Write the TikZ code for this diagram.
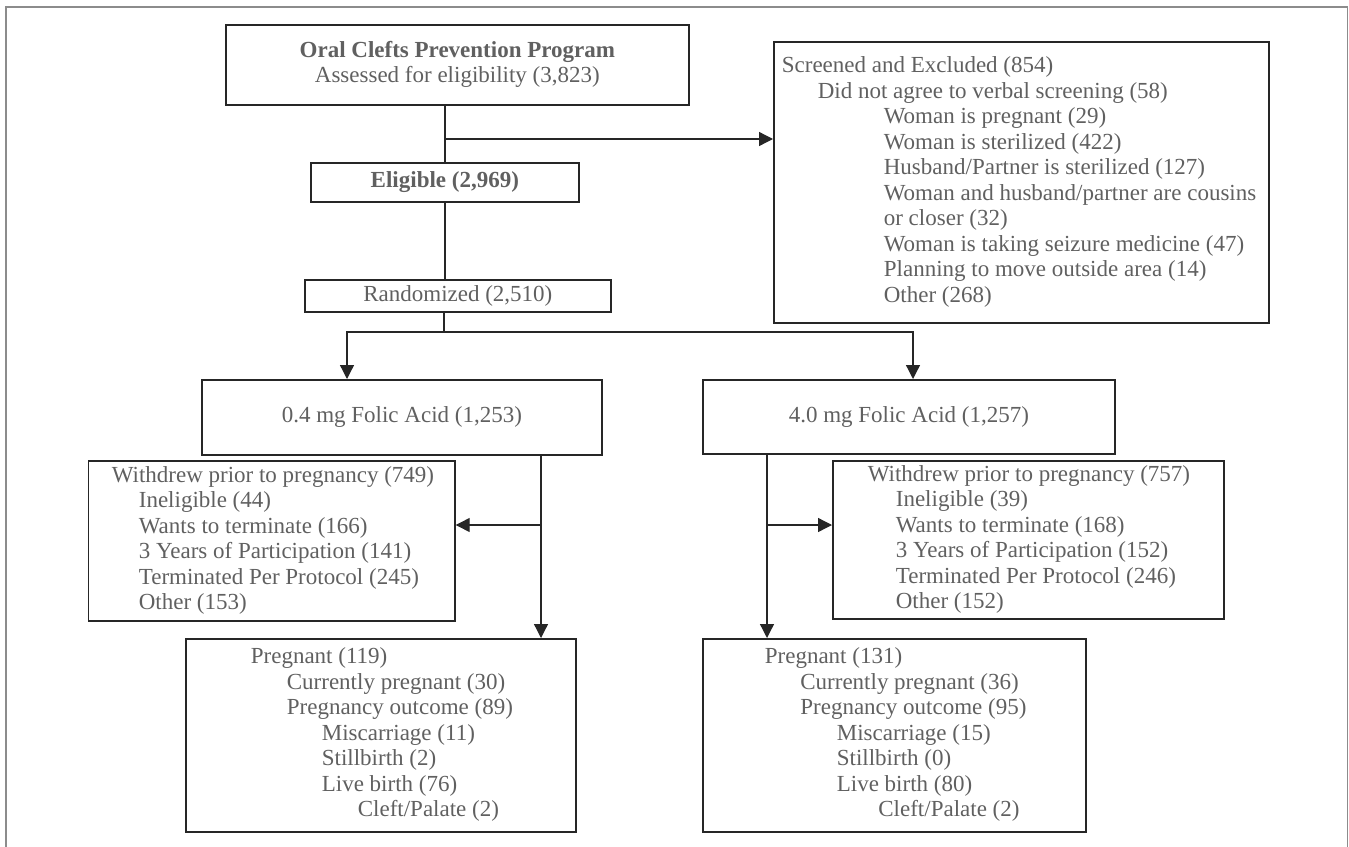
\documentclass[tikz,border=0pt]{standalone}
\usepackage{fontspec}
\setmainfont{Liberation Serif}
\usetikzlibrary{arrows.meta}
\definecolor{txtc}{RGB}{96,96,96}
\definecolor{linec}{RGB}{38,38,38}
\definecolor{framec}{RGB}{140,140,140}
\tikzset{
  boxn/.style={draw=linec, line width=0.85pt, inner sep=0pt, anchor=north west,
    text=txtc, font=\fontsize{11.5pt}{12.75pt}\selectfont},
  conn/.style={draw=linec, line width=0.65pt},
  arr/.style={conn, -{Triangle[length=7pt,width=7pt]}},
  outerframe/.style={draw=framec, line width=0.6pt},
}
\newcommand\lbox[3]{\makebox[#1][l]{\hspace*{#2}\begin{tabular}{@{}l@{}}#3\end{tabular}}}
\begin{document}
\begin{tikzpicture}[x=0.5pt,y=-0.5pt]
\useasboundingbox (0,0) rectangle (1349,846);
\clip (0,0) rectangle (1349,846);
\draw[outerframe] (6,870) -- (6,7) -- (1347.5,7) -- (1347.5,870);

\node[boxn, minimum width=231.5pt, minimum height=40pt] (top) at (225,24)
  {\begin{tabular}{@{}c@{}}\textbf{Oral Clefts Prevention Program}\\ Assessed for eligibility (3,823)\end{tabular}};
\node[boxn, minimum width=134pt, minimum height=19.5pt] (elig) at (310,162)
  {\textbf{Eligible (2,969)}};
\node[boxn, minimum width=153pt, minimum height=16pt] (rand) at (304,279)
  {Randomized (2,510)};
\node[boxn, minimum width=247.5pt, minimum height=140.5pt] (scr) at (773,41)
  {\lbox{247.5pt}{4pt}{Screened and Excluded (854)\\
   \hspace*{18pt}Did not agree to verbal screening (58)\\
   \hspace*{51pt}Woman is pregnant (29)\\
   \hspace*{51pt}Woman is sterilized (422)\\
   \hspace*{51pt}Husband/Partner is sterilized (127)\\
   \hspace*{51pt}Woman and husband/partner are cousins\\
   \hspace*{51pt}or closer (32)\\
   \hspace*{51pt}Woman is taking seizure medicine (47)\\
   \hspace*{51pt}Planning to move outside area (14)\\
   \hspace*{51pt}Other (268)}};
\node[boxn, minimum width=200pt, minimum height=37.5pt] (f04) at (201,379)
  {0.4 mg Folic Acid (1,253)};
\node[boxn, minimum width=206pt, minimum height=37pt] (f40) at (702,379)
  {4.0 mg Folic Acid (1,257)};
\node[boxn, minimum width=183.25pt, minimum height=80pt] (wdL) at (87.5,460)
  {\lbox{183.25pt}{11.75pt}{Withdrew prior to pregnancy (749)\\
   \hspace*{13.5pt}Ineligible (44)\\
   \hspace*{13.5pt}Wants to terminate (166)\\
   \hspace*{13.5pt}3 Years of Participation (141)\\
   \hspace*{13.5pt}Terminated Per Protocol (245)\\
   \hspace*{13.5pt}Other (153)}};
\node[boxn, minimum width=195.5pt, minimum height=79pt] (wdR) at (832,460)
  {\lbox{195.5pt}{17.5pt}{Withdrew prior to pregnancy (757)\\
   \hspace*{14pt}Ineligible (39)\\
   \hspace*{14pt}Wants to terminate (168)\\
   \hspace*{14pt}3 Years of Participation (152)\\
   \hspace*{14pt}Terminated Per Protocol (246)\\
   \hspace*{14pt}Other (152)}};
\node[boxn, minimum width=195pt, minimum height=96.5pt] (prL) at (185,638)
  {\lbox{195pt}{32.5pt}{Pregnant (119)\\
   \hspace*{18pt}Currently pregnant (30)\\
   \hspace*{18pt}Pregnancy outcome (89)\\
   \hspace*{35.5pt}Miscarriage (11)\\
   \hspace*{35.5pt}Stillbirth (2)\\
   \hspace*{35.5pt}Live birth (76)\\
   \hspace*{53.5pt}Cleft/Palate (2)}};
\node[boxn, minimum width=191.5pt, minimum height=96.5pt] (prR) at (702,638)
  {\lbox{191.5pt}{31pt}{Pregnant (131)\\
   \hspace*{17.75pt}Currently pregnant (36)\\
   \hspace*{17.75pt}Pregnancy outcome (95)\\
   \hspace*{36pt}Miscarriage (15)\\
   \hspace*{36pt}Stillbirth (0)\\
   \hspace*{36pt}Live birth (80)\\
   \hspace*{56.75pt}Cleft/Palate (2)}};

% connectors
\coordinate (sA) at (444,139);
\draw[conn] (elig.north) -- (elig.north |- top.south);
\draw[arr] (sA) -- (sA -| scr.west);
\draw[conn] (elig.south) -- (elig.south |- rand.north);
\coordinate (sB) at (444,332);
\coordinate (aL) at (347,332);
\coordinate (aR) at (913,332);
\draw[conn] (sB |- rand.south) -- (sB);
\draw[arr] (sB) -- (aL) -- (aL |- f04.north);
\draw[arr] (sB) -- (aR) -- (aR |- f40.north);
\coordinate (cL) at (541,525);
\draw[arr] (cL |- f04.south) -- (cL |- prL.north);
\draw[arr] (cL) -- (cL -| wdL.east);
\coordinate (cR) at (767,525);
\draw[arr] (cR |- f40.south) -- (cR |- prR.north);
\draw[arr] (cR) -- (cR -| wdR.west);
\end{tikzpicture}
\end{document}
